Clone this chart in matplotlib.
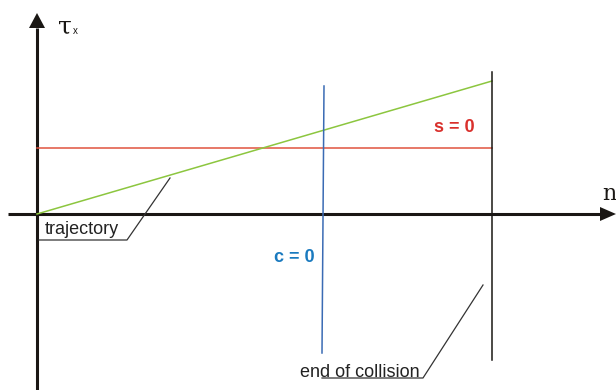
import matplotlib.pyplot as plt

# schematic values, origin at the axes crossing (n right, tau up)
n_axis = [-29, 563]
tau_axis = [-176, 186]

trajectory_n = [0, 455]
trajectory_tau = [0, 133]

s0_n = [0, 455]
s0_tau = [66, 66]

c0_n = [287, 285]
c0_tau = [128, -139]

end_n = [455, 455]
end_tau = [142, -146]

traj_leader_n = [2, 90, 133]
traj_leader_tau = [-26, -26, 36]
end_leader_n = [285, 386, 446]
end_leader_tau = [-164, -164, -71]

fig = plt.figure(figsize=(6.16, 3.9), dpi=100)
fig.patch.set_facecolor('white')
ax = fig.add_axes([0, 0, 1, 1])
ax.set_xlim(-37, 579)
ax.set_ylim(-176, 214)
ax.axis('off')

ink = '#1a1714'

# axes with arrow heads
ax.plot(n_axis, [0, 0], color=ink, lw=2.2, solid_capstyle='butt')
ax.plot([0, 0], tau_axis, color=ink, lw=2.2, solid_capstyle='butt')
ax.fill([563, 579, 563], [7, 0, -7], color=ink, lw=0)
ax.fill([-8, 0, 8], [186, 201, 186], color=ink, lw=0)

# curves
ax.plot(s0_n, s0_tau, color='#e0533f', lw=1.1)
ax.plot(trajectory_n, trajectory_tau, color='#8cc63f', lw=1.1)
ax.plot(c0_n, c0_tau, color='#3a6bb4', lw=1.1)
ax.plot(end_n, end_tau, color=ink, lw=1.1)

# leaders
ax.plot(traj_leader_n, traj_leader_tau, color='#333333', lw=0.9)
ax.plot(end_leader_n, end_leader_tau, color='#333333', lw=0.9)

# labels
ax.text(8, -20, 'trajectory', fontsize=13, family='Liberation Sans', color='#222222')
ax.text(263, -163, 'end of collision', fontsize=13, family='Liberation Sans', color='#222222')
ax.text(397, 82, 's = 0', fontsize=13, family='Liberation Sans', weight='bold', color='#d9302c')
ax.text(237, -48, 'c = 0', fontsize=13, family='Liberation Sans', weight='bold', color='#1a7abf')

ax.text(21, 181, 'τ', fontsize=18, family='DejaVu Serif', color=ink)
ax.text(36, 180, 'x', fontsize=7, family='Liberation Sans', color=ink)
ax.text(565, 14, 'n', fontsize=16, family='DejaVu Serif', color=ink)

fig.savefig('out.png', dpi=100)
